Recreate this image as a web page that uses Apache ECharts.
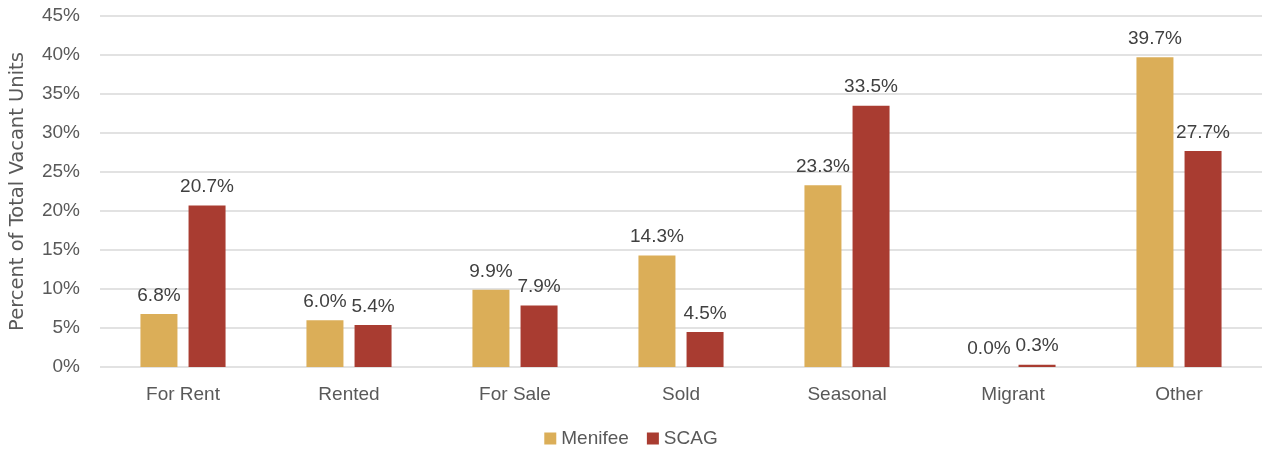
<!DOCTYPE html>
<html>
<head>
<meta charset="utf-8">
<script src="https://cdn.jsdelivr.net/npm/echarts@6/dist/echarts.min.js"></script>
<style>
  html, body { margin: 0; padding: 0; background: #fff; }
  #bar { width: 1262px; height: 453px; }
</style>
</head>
<body>
<div id="bar"></div>
<script>
var categories = ['For Rent', 'Rented', 'For Sale', 'Sold', 'Seasonal', 'Migrant', 'Other'];
var menifee = [6.8, 6.0, 9.9, 14.3, 23.3, 0.0, 39.7];
var scag = [20.7, 5.4, 7.9, 4.5, 33.5, 0.3, 27.7];
var legendData = ['Menifee', 'SCAG'];
var colors = ['#DBAE58', '#A93C31'];
var fontFamily = '"Liberation Sans", Arial, sans-serif';

var labelStyle = {
    show: true,
    position: 'top',
    distance: 9,
    color: '#404040',
    fontSize: 19,
    fontFamily: fontFamily,
    formatter: function (p) { return p.value.toFixed(1) + '%'; }
};

var serieData = [menifee, scag].map(function (d, i) {
    return {
        name: legendData[i],
        type: 'bar',
        data: d,
        barWidth: 37,
        barGap: '30%',
        label: labelStyle
    };
});

var echartsOption = {
    backgroundColor: '#fff',
    animation: false,
    color: colors,
    textStyle: { fontFamily: fontFamily },
    legend: {
        data: legendData,
        bottom: 0,
        left: 'center',
        itemWidth: 12, itemHeight: 12,
        itemGap: 18,
        icon: 'rect',
        textStyle: { color: '#595959', fontSize: 19, fontFamily: fontFamily }
    },
    grid: { left: 100, right: 0, top: 16, bottom: 86 },
    xAxis: {
        type: 'category',
        data: categories,
        axisLine: { show: false },
        axisTick: { show: false },
        axisLabel: { color: '#595959', fontSize: 19, margin: 18, fontFamily: fontFamily }
    },
    yAxis: {
        type: 'value',
        min: 0, max: 45, interval: 5,
        name: 'Percent of Total Vacant Units',
        nameLocation: 'middle',
        nameGap: 72,
        nameTextStyle: { color: '#595959', fontSize: 19.5, fontFamily: '"DejaVu Sans", sans-serif' },
        axisLine: { show: false },
        axisTick: { show: false },
        splitLine: { lineStyle: { color: '#D9D9D9', width: 1.5 } },
        axisLabel: { color: '#595959', fontSize: 19, margin: 20, fontFamily: fontFamily, formatter: '{value}%' }
    },
    series: serieData
};

var myChart = echarts.init(document.getElementById('bar'));
myChart.setOption(echartsOption);
</script>
</body>
</html>
